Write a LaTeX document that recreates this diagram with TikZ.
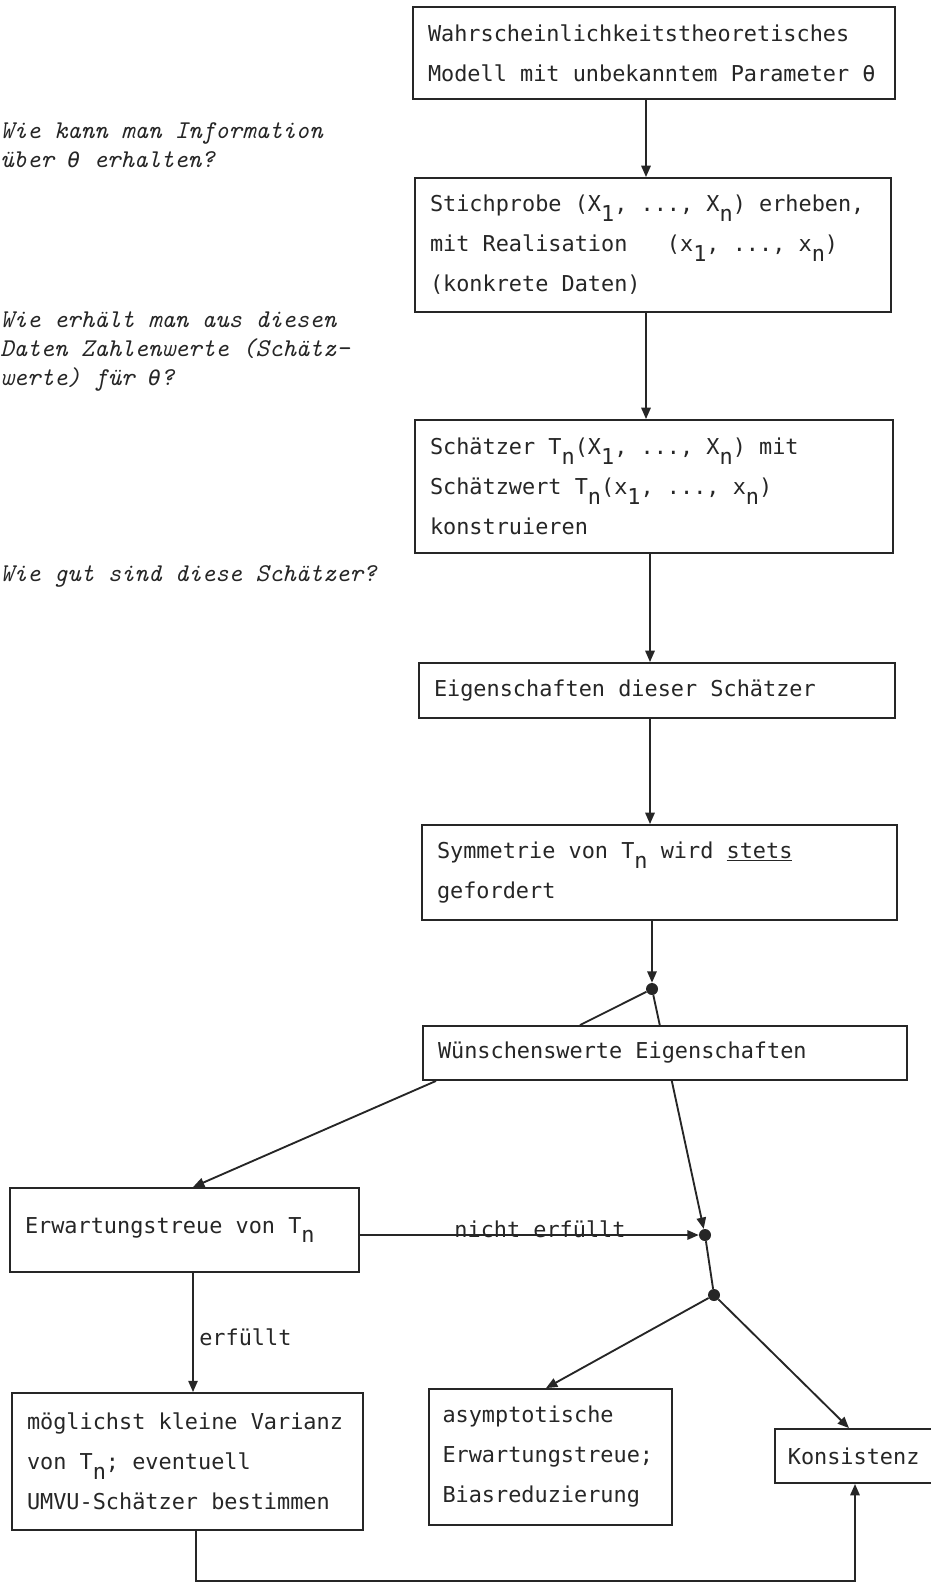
\documentclass[tikz,border=0pt]{standalone}
\usepackage{fontspec}
\newfontfamily\boxfont{DejaVu Sans Mono}
\usetikzlibrary{arrows.meta,backgrounds,calc}
\newcommand\sbs[1]{\raisebox{-0.45em}{#1}}
\newcommand\qth{{\boxfont\fontsize{16}{21}\selectfont θ}}
\newcommand\monospc{\spaceskip=0.602em\relax\xspaceskip=0.602em\relax}
\newcommand\qspc{\spaceskip=0.525em\relax\xspaceskip=0.525em\relax}
\begin{document}
\begin{tikzpicture}[x=0.75pt,y=-0.75pt,
  box/.style={draw=black!85, line width=1.4pt, fill=white, inner sep=0pt, align=left, text=black!85,
    font={\boxfont\fontsize{16.4}{30}\selectfont}},
  ques/.style={anchor=west, align=left, inner sep=0pt, text=black!85,
    font={\ttfamily\itshape\fontsize{19.2}{21.4}\selectfont}},
  lab/.style={inner sep=0pt, text=black!85, font={\boxfont\fontsize{16.4}{30}\selectfont}},
  conn/.style={draw=black!85, line width=1.4pt},
  arr/.style={conn, -{Triangle[length=8.5pt,width=7pt]}},
  dot/.style={circle, fill=black!85, inner sep=0pt, minimum size=9pt},
]
\useasboundingbox (0,0) rectangle (931,1584);

% questions
\node[ques] (q1) at (0,145.5) {\qspc Wie kann man Information\\über \qth\ erhalten?};
\node[ques] (q2) at (0,351.5) {\qspc Wie erhält man aus diesen\\Daten Zahlenwerte (Schätz-\\werte) für \qth?};
\node[ques] (q3) at (0,576) {\qspc Wie gut sind diese Schätzer?};

% boxes
\node[box, minimum width=361.5pt, minimum height=69pt, text width=339pt] (b1) at (654,53)
  {\monospc Wahrscheinlichkeitstheoretisches\\Modell mit unbekanntem Parameter θ};
\node[box, minimum width=357pt, minimum height=100.5pt, text width=334.5pt] (b2) at (653,245)
  {\monospc Stichprobe (X\sbs{1}, ..., X\sbs{n}) erheben,\\mit Realisation\ \ \ (x\sbs{1}, ..., x\sbs{n})\\(konkrete Daten)};
\node[box, minimum width=358.5pt, minimum height=99.75pt, text width=336pt] (b3) at (654,486.5)
  {\monospc Schätzer T\sbs{n}(X\sbs{1}, ..., X\sbs{n}) mit\\Schätzwert T\sbs{n}(x\sbs{1}, ..., x\sbs{n})\\konstruieren};
\node[box, minimum width=357pt, minimum height=41.25pt, text width=334.5pt] (b4) at (657,690.5)
  {\monospc Eigenschaften dieser Schätzer};
\node[box, minimum width=356.25pt, minimum height=71.25pt, text width=333.75pt] (b5) at (659.5,872.5)
  {\monospc Symmetrie von T\sbs{n} wird \underline{stets}\\gefordert};
\node[box, minimum width=363pt, minimum height=40.5pt, text width=340.5pt] (b6) at (665,1053)
  {\monospc Wünschenswerte Eigenschaften};
\node[box, minimum width=261.75pt, minimum height=63pt, text width=239.25pt] (b7) at (184.5,1230)
  {\monospc Erwartungstreue von T\sbs{n}};
\node[box, minimum width=263.25pt, minimum height=102.75pt, text width=240.75pt] (b8) at (187.5,1461.5)
  {\monospc möglichst kleine Varianz\\von T\sbs{n}; eventuell\\UMVU-Schätzer bestimmen};
\node[box, minimum width=182.25pt, minimum height=102pt, text width=162pt] (b9) at (550.5,1457)
  {\monospc asymptotische\\Erwartungstreue;\\Biasreduzierung};
\node[box, minimum width=119.25pt, minimum height=40.5pt, text width=100pt] (b10) at (854.5,1456)
  {Konsistenz};

% junction dots
\node[dot] (d0) at (652,989) {};
\node[dot] (d1) at (705,1235) {};
\node[dot] (d2) at (714,1295) {};

% guides
\coordinate (g1) at (646,0);
\coordinate (g2) at (650,0);
\coordinate (g3) at (580,0);
\coordinate (g4) at (436,0);
\coordinate (g5) at (193,0);
\coordinate (g6) at (546,0);
\coordinate (g7) at (849,0);
\coordinate (g8) at (196,0);
\coordinate (g9) at (855,0);
\coordinate (gy) at (0,1581);

% labels
\node[lab, anchor=base] (l1) at (540,1237) {nicht erfüllt};
\node[lab, anchor=base west] (l2) at (199,1345) {erfüllt};

% connectors
\draw[arr] (b1.south -| g1) -- (b2.north -| g1);
\draw[arr] (b2.south -| g1) -- (b3.north -| g1);
\draw[arr] (b3.south -| g2) -- (b4.north -| g2);
\draw[arr] (b4.south -| g2) -- (b5.north -| g2);
\draw[arr] (b5.south -| d0) -- (d0);
\draw[conn] (d0) -- (b6.north -| g3);
\begin{pgfonlayer}{background}
\draw[arr] (d0) -- (d1);
\end{pgfonlayer}
\draw[arr] (b6.south -| g4) -- (b7.north -| g5);
\draw[arr] (b7.east |- d1) -- (d1);
\draw[arr] (b7.south -| g5) -- (b8.north -| g5);
\draw[conn] (d1) -- (d2);
\draw[arr] (d2) -- (b9.north -| g6);
\draw[arr] (d2) -- (b10.north -| g7);
\draw[arr] (b8.south -| g8) -- (g8 |- gy) -- (g9 |- gy) -- (b10.south -| g9);
\end{tikzpicture}
\end{document}
